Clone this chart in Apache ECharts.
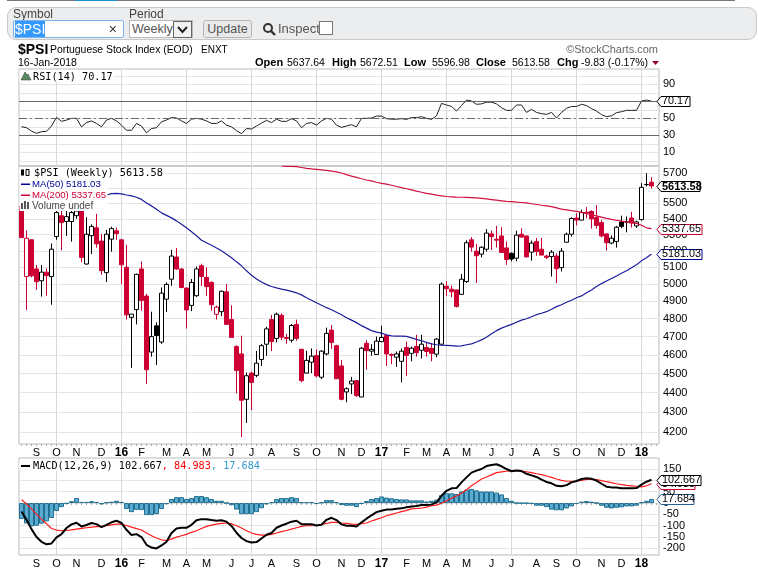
<!doctype html>
<html lang="en">
<head>
<meta charset="UTF-8">
<title>$PSI Portuguese Stock Index</title>
<script src="https://cdn.jsdelivr.net/npm/echarts@6/dist/echarts.min.js"></script>
<style>
    body { margin: 0; background: #fff; font-family: "Liberation Sans", Arial, sans-serif; }
    #main { position: absolute; left: 0; top: 0; width: 758px; height: 576px; }
    .topline { position: absolute; left: 7px; top: 0; width: 728px; height: 1px; background: #777; }
    .topline i { position: absolute; left: 68px; width: 42px; height: 1px; background: #1a8fd0; }
    .bar { position: absolute; left: 7px; top: 7px; width: 748px; height: 31px; background: #ecedef; border: 1px solid #c9c9c9; border-radius: 9px; }
    .lb { position: absolute; font-size: 12px; color: #444; top: 8px; line-height: 12px; }
    .inp { position: absolute; left: 13px; top: 20px; width: 109px; height: 16px; background: #fff; border: 1px solid #7eb4ea; border-radius: 2px; font-size: 14px; line-height: 16px; }
    .inp span { background: #3399ff; color: #fff; margin-left: 1px; }
    .inp b { position: absolute; right: 6px; top: 0; font-weight: normal; color: #333; }
    .sel { position: absolute; left: 129px; top: 20px; height: 16px; background: #fff; border: 1px solid #bbb; font-size: 12.5px; line-height: 16px; color: #555; padding-left: 2px; width: 60px; }
    .sel u { position: absolute; right: 0; top: 0; width: 17px; height: 15px; border: 1px solid #666; text-decoration: none; background: #f2f2f2; }
    .btn { position: absolute; left: 203px; top: 20px; width: 47px; height: 16px; background: #e9e9e9; border: 1px solid #b5b5b5; border-radius: 3px; font-size: 12.5px; line-height: 16px; text-align: center; color: #555; }
    .ins { position: absolute; left: 278px; top: 20px; font-size: 13px; line-height: 17px; color: #555; }
    .chk { position: absolute; left: 319px; top: 21px; width: 12px; height: 12px; background: #fff; border: 1px solid #777; }
</style>
</head>
<body>
<div id="main"></div>
<div class="topline"><i></i></div>
<div class="bar"></div>
<div class="lb" style="left:13px">Symbol</div>
<div class="lb" style="left:129px">Period</div>
<div class="inp"><span>$PSI</span><b>&#215;</b></div>
<div class="sel">Weekly<u><svg width="17" height="15"><path d="M4 5l4.5 5 4.5-5" fill="none" stroke="#222" stroke-width="2"/></svg></u></div>
<div class="btn">Update</div>
<svg style="position:absolute;left:262px;top:22px" width="15" height="15"><circle cx="6" cy="6" r="4" fill="none" stroke="#333" stroke-width="2"/><path d="M9 9l4 4" stroke="#333" stroke-width="2.4"/></svg>
<div class="ins">Inspect</div>
<div class="chk"></div>

<script>
    // open, high, low, close - weekly bars
    var ohlc = [
        [5480,5500,5282,5282],[5045,5326,4850,5278],[5268,5272,5040,5049],[5090,5114,4966,5014],
        [5020,5114,4927,5071],[5071,5095,4932,5050],[5045,5245,4880,5210],[5288,5470,5268,5440],
        [5420,5450,5203,5376],[5383,5450,5292,5414],[5383,5470,5257,5440],[5420,5480,5400,5450],
        [5470,5490,5130,5160],[5120,5411,5115,5303],[5294,5365,5180,5352],[5343,5432,5220,5243],
        [5260,5303,5055,5080],[5068,5330,5012,5303],[5272,5350,5195,5338],[5324,5345,5268,5307],
        [5268,5272,5000,5115],[5100,5237,4795,4822],[4808,4826,4530,4826],[4852,5062,4768,5058],
        [5090,5135,4846,4905],[4930,4943,4445,4520],[4615,4840,4590,4700],[4760,4780,4545,4706],
        [4670,4980,4660,4947],[4912,5010,4838,4998],[5029,5206,4990,5168],[5162,5217,5085,5090],
        [5090,5093,4975,4980],[4977,4980,4745,4850],[4876,5030,4843,5010],[4932,5105,4925,5090],
        [5110,5122,4990,5045],[5040,5100,4930,4985],[5010,5017,4846,4880],[4825,4875,4795,4866],
        [4840,4962,4815,4958],[4955,5000,4768,4768],[4795,4877,4693,4695],[4645,4652,4395,4516],
        [4605,4705,4175,4360],[4365,4505,4245,4488],[4502,4510,4310,4453],[4490,4622,4480,4555],
        [4575,4660,4540,4650],[4658,4755,4595,4743],[4795,4822,4620,4672],[4690,4835,4668,4826],
        [4820,4830,4680,4697],[4695,4715,4660,4690],[4680,4770,4668,4762],[4768,4795,4677,4690],
        [4630,4632,4453,4462],[4502,4622,4502,4570],[4560,4635,4502,4593],[4596,4630,4480,4487],
        [4480,4625,4470,4620],[4605,4750,4597,4718],[4736,4765,4633,4668],[4650,4655,4472,4472],
        [4540,4572,4360,4365],[4403,4427,4350,4420],[4445,4482,4392,4460],[4462,4465,4378,4384],
        [4377,4642,4377,4636],[4663,4680,4520,4623],[4620,4658,4595,4630],[4602,4700,4600,4675],
        [4672,4760,4670,4695],[4706,4710,4540,4605],[4602,4608,4550,4598],[4587,4618,4535,4605],
        [4565,4634,4453,4620],[4640,4672,4487,4597],[4608,4645,4565,4636],[4646,4710,4590,4612],
        [4625,4710,4580,4658],[4640,4668,4590,4618],[4635,4665,4565,4608],[4604,4692,4587,4686],
        [4658,5010,4655,5000],[4987,5018,4930,4973],[4970,4992,4923,4955],[4966,4966,4864,4870],
        [4940,5060,4938,5029],[5015,5265,5007,5250],[5268,5285,5195,5223],[5198,5243,5007,5170],
        [5180,5228,5160,5222],[5210,5335,5196,5310],[5305,5326,5205,5288],[5272,5355,5220,5266],
        [5292,5347,5188,5190],[5218,5258,5115,5147],[5185,5190,5136,5150],[5155,5325,5136,5297],
        [5303,5340,5283,5285],[5292,5294,5160,5163],[5192,5263,5140,5248],[5257,5280,5170,5196],
        [5210,5280,5174,5174],[5168,5176,5150,5160],[5165,5205,5045,5192],[5168,5185,5005,5092],
        [5098,5217,5075,5198],[5253,5313,5253,5303],[5303,5410,5288,5402],[5405,5436,5358,5392],
        [5392,5458,5390,5440],[5442,5475,5404,5436],[5447,5455,5338,5400],[5408,5488,5338,5358],
        [5376,5392,5283,5292],[5305,5307,5202,5250],[5248,5295,5240,5278],[5258,5355,5220,5347],
        [5380,5420,5341,5352],[5380,5415,5315,5381],[5405,5445,5345,5373],[5355,5388,5342,5380],
        [5395,5632,5388,5604],[5622,5698,5610,5623.41],[5637.64,5672.51,5596.98,5613.58]
    ];
    var n = '-';
    var ma50 = [n,n,n,n,n,n,n,n,n,n,n,n,n,n,n,n,n,
        5554,5563,5565,5561,5554,5548,5539,5525,5502,5483,5461,5438,5422,5406,5387,5365,5343,5318,5293,
        5265,5250,5234,5218,5200,5179,5158,5133,5109,5079,5052,5030,5012,4997,4986,4978,4971,4965,4957,
        4949,4937,4920,4906,4891,4877,4863,4851,4837,4823,4806,4792,4778,4761,4747,4733,4725,4719,4710,
        4704,4703,4703,4701,4693,4685,4677,4668,4660,4655,4653,4652,4650,4647,4649,4655,4660,4670,4682,
        4696,4716,4733,4747,4758,4768,4780,4792,4800,4811,4823,4831,4840,4854,4869,4880,4894,4906,4920,
        4931,4949,4966,4986,5003,5018,5033,5048,5064,5079,5097,5115,5139,5158,5181.03];
    var ma200 = [n,n,n,n,n,n,n,n,n,n,n,n,n,n,n,n,n,n,n,n,n,n,n,n,n,n,n,n,n,n,n,n,n,n,n,n,
        n,n,n,n,n,n,n,n,n,n,n,n,n,n,n,n,
        5748,5745,5744,5743,5737,5731,5727,5724,5721,5718,5713,5707,5700,5689,5679,5670,5661,5653,5647,
        5638,5631,5625,5618,5610,5602,5595,5587,5579,5572,5565,5559,5553,5548,5544,5542,5540,5539,5538,
        5537,5535,5532,5528,5524,5520,5516,5512,5510,5507,5505,5502,5497,5492,5487,5483,5478,5470,5462,
        5457,5452,5448,5441,5434,5426,5419,5411,5403,5396,5391,5385,5381,5376,5371,5359,5343,5337.65];
    var rsi = [40.2,39,35,32.4,34.3,34.7,41,51.2,46.5,48,50,50,40,45,47,44,40,48,50,47,42,36,36,44,41,33,38,39,46,48,
        51,50.4,47,44,49,50,49,47,44,44,47,42,40,35.5,32,38,37.5,41,44.5,47.6,45,49,46.5,46.5,49.6,47,39,44,45,42,
        47,50,49,42,39.4,41,42.5,40,50,50,50.4,52.7,52.7,49.6,49,49,49.6,48.8,51,50.8,52,50,48.8,53,67.6,65.7,64,58.6,65,71.5,
        70.4,66.5,67,69,69,67,62.5,59.4,59.4,65.7,65.7,57,60.6,57,55.5,54.7,57,50.4,57,61.8,64,64,66.5,65,61.4,58.6,
        54.3,52,53,56.7,57.8,59.4,59.4,59.4,70.4,71.5,70.17];
    var macd = [-37,-74,-115,-150,-171,-182,-178,-151,-137,-110,-94,-87,-103,-97,-88,-93,-106,-96,-85,-78,
        -88,-118,-141,-137,-150,-184,-196,-200,-187,-171,-132,-112,-109,-109,-96,-76,-71,-71,-75,-78,
        -76,-82,-101,-131,-154,-168,-174,-172,-156,-140,-132,-109,-99,-91,-82,-78,-93,-93,-93,-99,
        -96,-74,-65,-75,-94,-100,-100,-103,-85,-69,-54,-40,-34,-29,-28,-25,-23.5,-19,-15,-13,
        -9,-9,-7,3,32,54,65,66,91,113,134,143,150,163,168,171,162,150,140,143,
        141,129,122,115,103,93,87,76,74,79,91,97,106,109,107,99,85,72,69,68,
        65,65,65,66,81,94,102.667];
    var signal = [15,-4,-26,-49,-71,-91,-112,-119,-122,-121,-118,-115,-112,-109,-106,-104,-103,-100,-96,-93,
        -93,-99,-106,-113,-119,-132,-144,-154,-162,-165,-159,-150,-144,-138,-129,-122,-112,-103,-97,-93,
        -90,-88,-91,-100,-110,-122,-132,-138,-141,-141,-138,-132,-126,-121,-115,-109,-103,-100,-100,-99,
        -94,-90,-85,-85,-88,-90,-93,-94,-91,-88,-79,-72,-65,-56,-50,-44,-38,-32,-26,-24,
        -22,-18,-12,-9,-1,10,21,31,43,59,76,91,106,115,124,134,137,140,143,143,
        141,138,134,129,125,119,113,106,100,96,96,97,100,104,104,103,99,94,90,85,
        81,78,76,74,71,76,84.983];
    var hist = [-70,-90,-103,-100,-91,-81,-66,-35,-18,-3,8,22,5,5,8,5,-6,3,6,10,
        5,-26,-40,-30,-31,-53,-53,-49,-26,-5,18,26,26,18,22,31,31,26,18,10,
        10,0,-10,-29,-49,-49,-49,-40,-23,-6,4,18,22,22,26,22,4,4,4,-4,
        3,13,13,4,-9,-12,-12,-18,-3,9,18,22,29,24,21,18,16,16,12,12,
        12,7,10,15,35,43,43,40,51,59,62,56,51,51,51,46,38,22,10,0,
        -1,-1,-3,-12,-12,-18,-29,-32,-32,-24,-15,-4,6,9,6,0,-12,-21,-24,-21,
        -19,-15,-15,-12,3,10,17.684];

    // month labels sit on these bars, one slot is left empty after the last bar
    var marks = {3:'S',7:'O',11:'N',16:'D',20:'16',24:'F',29:'M',33:'A',37:'M',42:'J',46:'J',50:'A',55:'S',59:'O',64:'N',68:'D',
        72:'17',77:'F',81:'M',85:'A',89:'M',94:'J',98:'J',103:'A',107:'S',111:'O',116:'N',120:'D',124:'18'};
    var cats = [];
    for (var i = 0; i < 128; i++) cats.push(marks[i] || '');

    var RED = '#cc0033';
    // same colouring as the site: hollow if close>open, black if close>previous close
    var candles = ohlc.map(function (b, i) {
        var up = b[3] >= b[0];
        var higher = i > 0 && b[3] >= ohlc[i - 1][3];
        var col = higher ? '#000' : RED;
        return {
            value: [b[0], b[3], b[2], b[1]],
            itemStyle: {color: up ? '#fff' : col, color0: up ? '#fff' : col, borderColor: col, borderColor0: col, borderWidth: 1}
        };
    });

    function xAxis(gridIndex, showLabels) {
        return {
            type: 'category', gridIndex: gridIndex, data: cats, boundaryGap: true,
            axisLine: {show: false},
            axisTick: {show: showLabels, interval: 0, length: 2, alignWithLabel: true, lineStyle: {color: '#aaa'}},
            axisLabel: {
                show: showLabels, interval: 0, margin: 3, fontSize: 11, color: '#000',
                fontFamily: 'Liberation Sans', hideOverlap: false,
                formatter: function (v) { return /\d/.test(v) ? '{y|' + v + '}' : v; },
                rich: {y: {fontWeight: 'bold', fontSize: 12, fontFamily: 'Liberation Sans', color: '#000'}}
            },
            splitLine: {
                show: true, alignWithLabel: true,
                interval: function (idx) { return idx >= 7 && (idx - 7) % 13 === 0; },
                lineStyle: {color: '#d8d8d8', width: 1}
            }
        };
    }
    function range(a, b, s) { var r = []; for (var v = a; v <= b; v += s) r.push(v); return r; }
    function yAxis(gridIndex, type, min, max, ticks, labels) {
        return {
            type: type, gridIndex: gridIndex, position: 'right', min: min, max: max,
            axisLine: {show: false},
            axisTick: {show: false, customValues: ticks},
            axisLabel: {
                customValues: labels, margin: 4, fontSize: 11, color: '#000', fontFamily: 'Liberation Sans', hideOverlap: false,
                formatter: function (v) { return String(Math.round(v)); }
            },
            splitLine: {show: true, lineStyle: {color: '#e4e4e4', width: 1}}
        };
    }
    function line(name, x, y, data, color, width, z) {
        return {name: name, type: 'line', xAxisIndex: x, yAxisIndex: y, data: data, showSymbol: false, symbol: 'none',
            lineStyle: {color: color, width: width}, itemStyle: {color: color}, z: z, silent: true, animation: false};
    }

    var myChart = echarts.init(document.getElementById('main'), null, {renderer: 'canvas'});
    var option = {
        animation: false,
        backgroundColor: '#fff',
        grid: [
            {left: 19, top: 69, width: 640, height: 97, show: true, borderColor: '#bbb', borderWidth: 1},
            {left: 19, top: 166, width: 640, height: 278, show: true, borderColor: '#bbb', borderWidth: 1},
            {left: 19, top: 458, width: 640, height: 97, show: true, borderColor: '#bbb', borderWidth: 1}
        ],
        xAxis: [xAxis(0, false), xAxis(1, true), xAxis(2, true)],
        yAxis: [
            yAxis(0, 'value', -6, 108, range(0, 100, 10), [10, 30, 50, 90]),
            yAxis(1, 'log', 4141, 5747, range(4200, 5700, 100), range(4200, 5700, 100)),
            yAxis(2, 'value', -229, 198.5, range(-200, 150, 50), range(-200, 150, 50))
        ],
        series: [
            {
                name: 'RSI', type: 'line', xAxisIndex: 0, yAxisIndex: 0, data: rsi, symbol: 'none',
                lineStyle: {color: '#222', width: 1}, z: 3,
                markLine: {
                    silent: true, symbol: 'none', label: {show: false}, animation: false,
                    data: [
                        {yAxis: 70, lineStyle: {color: '#666', width: 1, type: 'solid'}},
                        {yAxis: 30, lineStyle: {color: '#666', width: 1, type: 'solid'}},
                        {yAxis: 50, lineStyle: {color: '#666', width: 1, type: [8, 3, 2, 3]}}
                    ]
                }
            },
            {
                name: '$PSI', type: 'candlestick', xAxisIndex: 1, yAxisIndex: 1, data: candles, barWidth: 4,
                itemStyle: {color: '#fff', color0: RED, borderColor: '#000', borderColor0: RED, borderWidth: 1}, z: 2
            },
            line('MA(200)', 1, 1, ma200, '#d01040', 1.2, 3),
            line('MA(50)', 1, 1, ma50, '#1c1c9c', 1.2, 3),
            {
                name: 'Hist', type: 'bar', xAxisIndex: 2, yAxisIndex: 2, data: hist, barWidth: 5, barGap: 0,
                itemStyle: {color: '#5aaad2', borderColor: '#22708f', borderWidth: 1}, z: 2
            },
            line('Signal', 2, 2, signal, '#ff1a1a', 1.2, 3),
            line('MACD', 2, 2, macd, '#000', 2, 4)
        ]
    };
    myChart.setOption(option);

    // texts, legends and value tags
    var els = [];
    function txt(x, y, s, size, opt) {
        opt = opt || {};
        els.push({
            type: 'text', x: x, y: y, z: opt.z || 101, silent: true,
            style: {
                text: s, fill: opt.color || '#000', font: (opt.bold ? 'bold ' : '') + size + 'px "' + (opt.font || 'Liberation Sans') + '"',
                textVerticalAlign: 'middle', textAlign: opt.align || 'left', rich: opt.rich
            }
        });
    }
    function box(x, y, w, h, fill, z) {
        els.push({type: 'rect', z: z || 100, silent: true, shape: {x: x, y: y, width: w, height: h}, style: {fill: fill}});
    }
    function tag(gi, v, s, color, w, bold, z) {
        var y = Math.round(myChart.convertToPixel({yAxisIndex: gi}, v)) + 0.5;
        els.push({
            type: 'polygon', z: z, silent: true,
            shape: {points: [[657, y], [661, y - 5], [661 + w, y - 5], [661 + w, y + 5], [661, y + 5]]},
            style: {fill: '#fff', stroke: color, lineWidth: 1}
        });
        txt(662, y, s, bold ? 11 : 10.8, {bold: bold, z: z + 1});
    }

    txt(18, 50, '$PSI', 14, {bold: true});
    txt(50, 50, 'Portuguese Stock Index (EOD)', 10.4);
    txt(201, 50, 'ENXT', 10);
    txt(18, 63, '16-Jan-2018', 10.5);
    txt(658, 50, '\u00a9StockCharts.com', 11, {align: 'right', color: '#666'});
    txt(255, 63, 'Open', 11, {bold: true}); txt(287, 63, '5637.64', 10.5);
    txt(332, 63, 'High', 11, {bold: true}); txt(360, 63, '5672.51', 10.5);
    txt(404, 63, 'Low', 11, {bold: true}); txt(432, 63, '5596.98', 10.5);
    txt(476, 63, 'Close', 11, {bold: true}); txt(512, 63, '5613.58', 10.5);
    txt(557, 63, 'Chg', 11, {bold: true}); txt(581, 63, '-9.83 (-0.17%)', 10.5);
    els.push({type: 'polygon', z: 101, silent: true, shape: {points: [[652, 61], [659, 61], [655.5, 65]]}, style: {fill: '#99003a'}});

    var MONO = 'DejaVu Sans Mono';

    // RSI legend
    box(19.5, 70, 94, 12, '#fff');
    els.push({type: 'polygon', z: 101, silent: true, shape: {points: [[21, 80], [25, 72], [27, 75], [28, 74], [31, 80]]}, style: {fill: '#5c8a62', stroke: '#333', lineWidth: 0.5}});
    txt(33, 77, 'RSI(14) 70.17', 10.2, {font: MONO});

    // price legend, it hides whatever is behind it
    box(19.5, 167, 88, 44, '#fff');
    box(19.5, 167, 146, 12, '#fff');
    els.push({type: 'rect', z: 101, silent: true, shape: {x: 21, y: 169.5, width: 3, height: 6}, style: {fill: '#000'}});
    els.push({type: 'rect', z: 101, silent: true, shape: {x: 26, y: 169.5, width: 3, height: 6}, style: {fill: '#fff', stroke: '#000', lineWidth: 1}});
    txt(34, 173, '$PSI (Weekly) 5613.58', 10.2, {font: MONO});
    box(21, 183.5, 9, 1.5, '#000099', 101);
    txt(32, 184, 'MA(50) 5181.03', 9.6, {color: '#000099'});
    box(21, 194.5, 9, 1.5, RED, 101);
    txt(32, 195, 'MA(200) 5337.65', 9.6, {color: RED});
    box(21, 203, 2, 6, '#555', 101); box(24, 201, 2, 8, '#555', 101); box(27, 202, 2, 7, '#555', 101);
    txt(32, 206, 'Volume undef', 10, {color: '#444'});

    // MACD legend
    box(19.5, 459, 243, 12, '#fff');
    box(21, 465, 9, 2, '#000', 101);
    txt(33, 466, '{k|MACD(12,26,9) 102.667}{r|, 84.983}{b|, 17.684}', 10.2, {
        font: MONO,
        rich: {
            k: {fill: '#000', font: '10.2px "' + MONO + '"'},
            r: {fill: '#ff0000', font: '10.2px "' + MONO + '"'},
            b: {fill: '#3399cc', font: '10.2px "' + MONO + '"'}
        }
    });

    tag(0, 70.17, '70.17', '#000', 29, false, 110);
    tag(1, 5613.58, '5613.58', '#000', 39, true, 110);
    tag(1, 5337.65, '5337.65', RED, 41, false, 110);
    tag(1, 5181.03, '5181.03', '#000099', 41, false, 110);
    tag(2, 84.983, '84.983', RED, 34, false, 110);
    tag(2, 102.667, '102.667', '#000', 40, false, 112);
    tag(2, 17.684, '17.684', '#2a6099', 33, false, 110);

    myChart.setOption({graphic: {elements: els}});
</script>
</body>
</html>
